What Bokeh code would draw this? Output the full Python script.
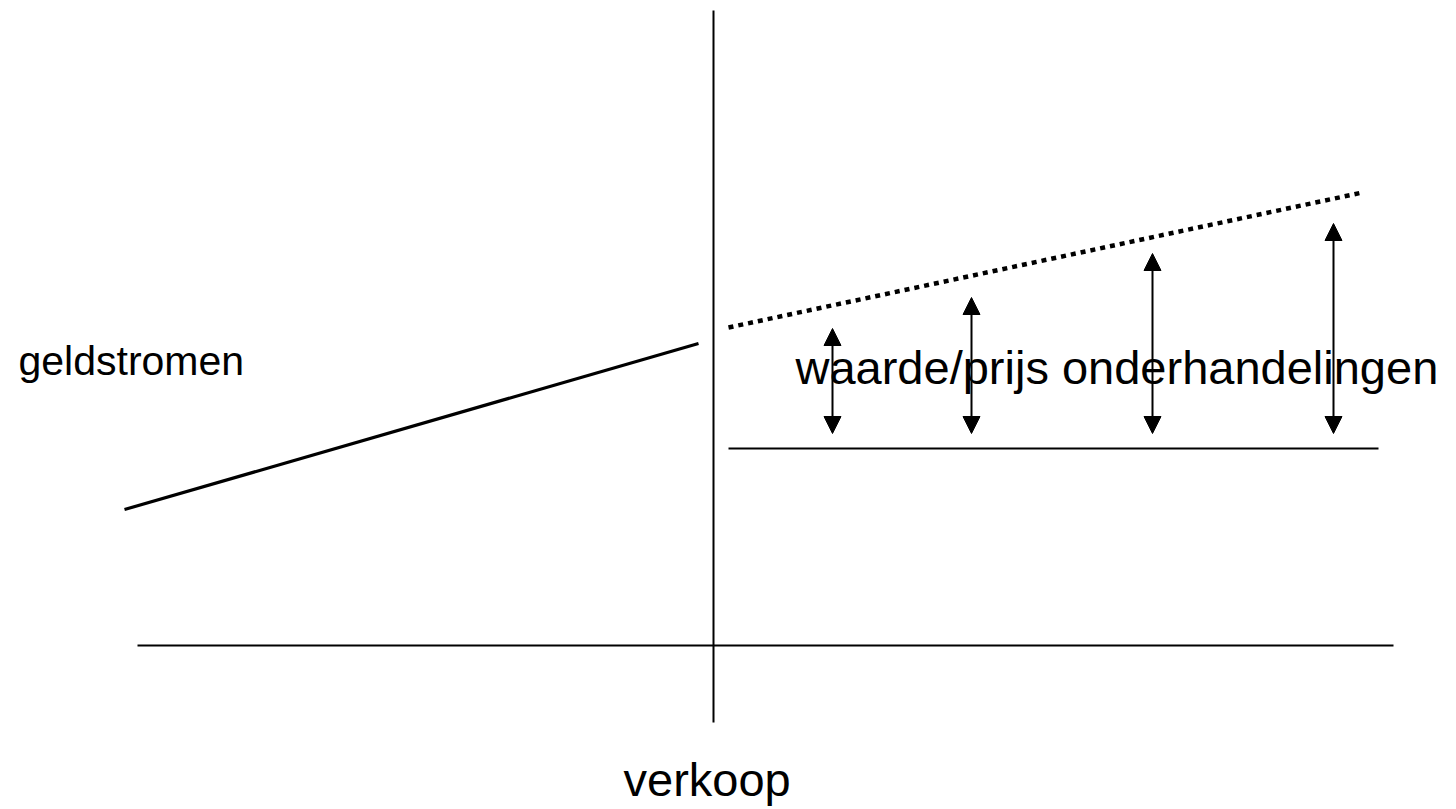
from bokeh.plotting import figure
from bokeh.models import Range1d, Arrow, NormalHead
from bokeh.core.properties import value
from bokeh.embed import file_html
from bokeh.resources import INLINE

# Diagram geometry (page pixel coordinates)
axis_v_x = [713, 713]
axis_v_y = [10, 722]
axis_h_x = [137, 1393]
axis_h_y = [645, 645]

before_x = [124, 698]
before_y = [509, 343]

value_x = [728, 1362]
value_y = [327, 192]

price_x = [728, 1378]
price_y = [448, 448]

arrow_x = [832, 971, 1152, 1333]
arrow_top = [328, 297, 253, 223]
arrow_bottom = [433, 433, 433, 433]

labels = ["geldstromen", "waarde/prijs onderhandelingen", "verkoop"]
label_x = [18, 795, 623]
label_y = [360, 367, 779]
label_size = ["41px", "47px", "47px"]

FONT = value("Liberation Sans")

p = figure(width=1456, height=809, output_backend="svg", toolbar_location=None,
           x_range=Range1d(0, 1456), y_range=Range1d(809, 0),
           x_axis_location=None, y_axis_location=None, min_border=0)
p.grid.visible = False
p.outline_line_color = None
p.background_fill_color = "white"
p.border_fill_color = "white"

p.line(axis_v_x, axis_v_y, line_color="black", line_width=2)
p.line(axis_h_x, axis_h_y, line_color="black", line_width=2)
p.line(before_x, before_y, line_color="black", line_width=3.2)
p.line(value_x, value_y, line_color="black", line_width=4.5, line_dash="5 5", line_cap="butt")
p.line(price_x, price_y, line_color="black", line_width=2)

for x, t, b in zip(arrow_x, arrow_top, arrow_bottom):
    p.add_layout(Arrow(x_start=x, y_start=b, x_end=x, y_end=t,
                       line_color="black", line_width=2,
                       start=NormalHead(size=17, fill_color="black", line_color="black", line_width=1),
                       end=NormalHead(size=17, fill_color="black", line_color="black", line_width=1)))

for txt, x, y, s in zip(labels, label_x, label_y, label_size):
    p.text(x=[x], y=[y], text=[txt], text_font=FONT, text_font_size=s,
           text_color="black", text_baseline="alphabetic", text_align="left")

open("out.html", "w").write(file_html(p, INLINE))
